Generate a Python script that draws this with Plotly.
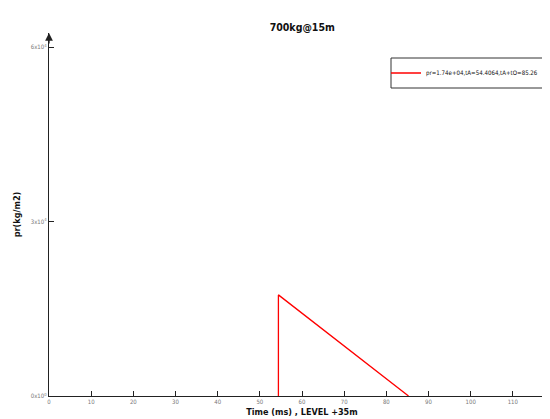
import plotly.graph_objects as go

t_ms = [54.4064, 54.4064, 85.26]
pr = [0, 17400, 0]
series_name = "pr=1.74e+04,tA=54.4064,tA+tO=85.26"
x_ticks = [0, 10, 20, 30, 40, 50, 60, 70, 80, 90, 100, 110, 120]
y_ticks = [0, 30000, 60000]
y_ticktext = ["0x10<sup>0</sup>", "3x10<sup>4</sup>", "6x10<sup>4</sup>"]

FONT = "DejaVu Sans Condensed, Liberation Sans Narrow, Arial Narrow, Liberation Sans, sans-serif"

W, H = 550, 419
ML, MR, MT, MB = 41, 3, 25, 31
PW, PH = W - ML - MR, H - MT - MB


def px2paper_x(px):
    return (px - ML) / PW


def px2paper_y(py):
    return (H - MB - py) / PH


fig = go.Figure()
fig.add_trace(go.Scatter(x=t_ms, y=pr, mode="lines", name=series_name,
                         line=dict(color="#ff0000", width=1.3)))

fig.update_layout(
    width=W, height=H,
    margin=dict(l=ML, r=MR, t=MT, b=MB, autoexpand=False),
    paper_bgcolor="white", plot_bgcolor="white",
    font=dict(family=FONT),
    title=dict(text="<b>700kg@15m</b>", x=0.535, xanchor="center", y=0.955, yanchor="middle",
               font=dict(size=10.5, color="#111", family=FONT)),
    showlegend=True,
    legend=dict(x=px2paper_x(378), xanchor="left", y=px2paper_y(65), yanchor="middle",
                bgcolor="rgba(0,0,0,0)", borderwidth=0,
                font=dict(size=6.1, color="#111", family=FONT),
                itemwidth=30, tracegroupgap=0),
    xaxis=dict(range=[0, 120], tickvals=x_ticks, ticks="inside", ticklen=5,
               tickcolor="#222", showline=True, linecolor="#222", linewidth=1.3,
               showgrid=False, zeroline=False, mirror=False, automargin=False,
               tickfont=dict(size=6, color="#777", family=FONT),
               title=dict(text="<b>Time (ms) , LEVEL +35m</b>", standoff=4,
                          font=dict(size=9, color="#111", family=FONT))),
    yaxis=dict(range=[0, 62460], tickvals=y_ticks, ticktext=y_ticktext,
               ticks="inside", ticklen=5, tickcolor="#222", automargin=False,
               showline=True, linecolor="#222", linewidth=1.3,
               showgrid=False, zeroline=False,
               tickfont=dict(size=6, color="#777", family=FONT),
               title=dict(text="<b>pr(kg/m2)</b>", standoff=8,
                          font=dict(size=9, color="#111", family=FONT))),
)

# legend frame
fig.add_shape(type="rect", xref="paper", yref="paper",
              x0=px2paper_x(383), x1=px2paper_x(546), y0=px2paper_y(80), y1=px2paper_y(50),
              line=dict(color="#333", width=1), fillcolor="rgba(0,0,0,0)", layer="above")

fig.add_annotation(x=0, y=1.0, xref="paper", yref="paper", ax=0, ay=12,
                   axref="pixel", ayref="pixel", showarrow=True,
                   arrowhead=2, arrowsize=1.2, arrowwidth=1.3, arrowcolor="#222", text="")

fig.write_html("out.html")
